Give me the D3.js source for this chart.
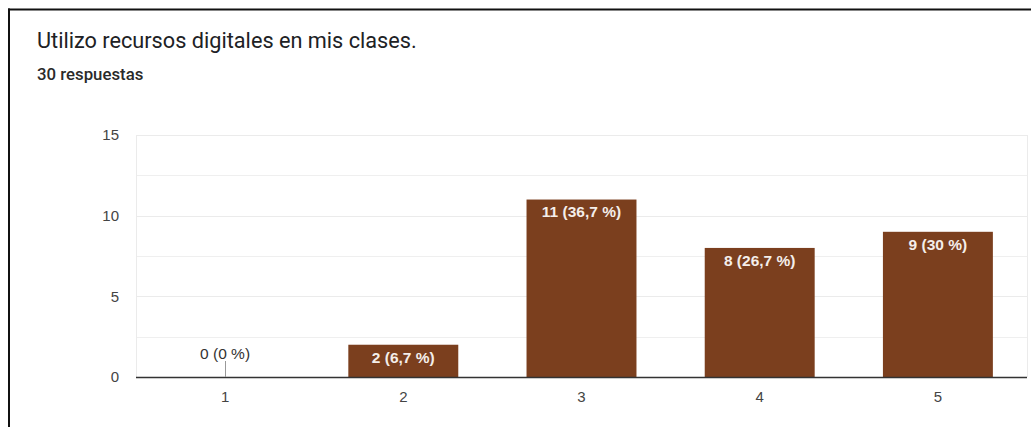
<!DOCTYPE html>
<html>
<head>
<meta charset="utf-8">
<script src="https://cdn.jsdelivr.net/npm/d3@7/dist/d3.min.js"></script>
<style>
  html, body { margin: 0; padding: 0; background: #fff; }
  svg { display: block; }
</style>
</head>
<body>
<svg id="chart" width="1031" height="427"></svg>
<script>
// Survey question and responses
const title = "Utilizo recursos digitales en mis clases.";
const subtitle = "30 respuestas";
const categories = ["1", "2", "3", "4", "5"];
const counts = [0, 2, 11, 8, 9];
const yTicks = [0, 5, 10, 15];
const yMinorTicks = [2.5, 7.5, 12.5];

const total = d3.sum(counts);
const fmtPct = v => {
  const r = Math.round(v * 10) / 10;
  return (Number.isInteger(r) ? String(r) : r.toFixed(1)).replace(".", ",");
};
const labelText = c => `${c} (${fmtPct(c / total * 100)} %)`;

const svg = d3.select("#chart");
const W = 1031, H = 427;

// Card frame (top and left edges)
svg.append("line").attr("x1", 8).attr("x2", W).attr("y1", 9.5).attr("y2", 9.5)
  .attr("stroke", "#111").attr("stroke-width", 2);
svg.append("line").attr("x1", 9).attr("x2", 9).attr("y1", 8.5).attr("y2", H)
  .attr("stroke", "#111").attr("stroke-width", 2);

// Heading
svg.append("text").attr("x", 37).attr("y", 48)
  .attr("font-family", "Roboto, 'Liberation Sans', sans-serif")
  .attr("font-size", 21.7).attr("fill", "#202124").text(title);
svg.append("text").attr("x", 37).attr("y", 80)
  .attr("font-family", "Roboto, 'Liberation Sans', sans-serif")
  .attr("font-size", 16.8).attr("font-weight", 500).attr("fill", "#2a2a2a").text(subtitle);

// Plot area
const plotL = 136, plotR = 1027, plotT = 135, plotB = 377;
const x = d3.scaleBand().domain(categories).range([plotL, plotR]).padding(0);
const y = d3.scaleLinear().domain([0, 15]).range([plotB, plotT]);
const barFrac = 0.617;
const barW = x.bandwidth() * barFrac;
const cx = c => x(c) + x.bandwidth() / 2;

const font = "Arial, 'Liberation Sans', sans-serif";

// Gridlines
svg.append("g").selectAll("line").data(yMinorTicks).join("line")
  .attr("x1", plotL).attr("x2", plotR)
  .attr("y1", d => Math.round(y(d)) + 0.5).attr("y2", d => Math.round(y(d)) + 0.5)
  .attr("stroke", "#efefef");
svg.append("g").selectAll("line").data(yTicks.filter(t => t > 0)).join("line")
  .attr("x1", plotL).attr("x2", plotR)
  .attr("y1", d => Math.round(y(d)) + 0.5).attr("y2", d => Math.round(y(d)) + 0.5)
  .attr("stroke", "#ebebeb");
// Plot side edges
[plotL, plotR].forEach(xx => {
  svg.append("line").attr("x1", xx + 0.5).attr("x2", xx + 0.5)
    .attr("y1", plotT).attr("y2", plotB).attr("stroke", "#ebebeb");
});

// Y axis labels
const yAxis = d3.axisLeft(y).tickValues(yTicks).tickSize(0).tickPadding(17);
const gy = svg.append("g").attr("transform", `translate(${plotL},0)`).call(yAxis);
gy.select(".domain").remove();
gy.selectAll("text").attr("font-family", font).attr("font-size", 15).attr("fill", "#444");

// Bars
svg.append("g").selectAll("rect").data(categories).join("rect")
  .attr("x", (c) => cx(c) - barW / 2)
  .attr("width", barW)
  .attr("y", (c, i) => y(counts[i]))
  .attr("height", (c, i) => plotB - y(counts[i]))
  .attr("fill", "#7b3f1e");

// Baseline
svg.append("line").attr("x1", plotL).attr("x2", plotR)
  .attr("y1", plotB + 0.5).attr("y2", plotB + 0.5)
  .attr("stroke", "#333").attr("stroke-width", 1.3);

// X axis labels
const xAxis = d3.axisBottom(x).tickSize(0).tickPadding(14);
const gx = svg.append("g").attr("transform", `translate(0,${plotB})`).call(xAxis);
gx.select(".domain").remove();
gx.selectAll("text").attr("font-family", font).attr("font-size", 15).attr("fill", "#444");

// Value labels
categories.forEach((c, i) => {
  const v = counts[i];
  if (v > 0) {
    svg.append("text").attr("x", cx(c)).attr("y", y(v) + 12.5)
      .attr("dy", "0.35em").attr("text-anchor", "middle")
      .attr("font-family", font).attr("font-size", 15.5).attr("font-weight", "bold")
      .attr("fill", "#f4eeea").text(labelText(v));
  } else {
    svg.append("line").attr("x1", Math.round(cx(c)) + 0.5).attr("x2", Math.round(cx(c)) + 0.5)
      .attr("y1", y(v)).attr("y2", y(v) - 16).attr("stroke", "#999");
    svg.append("text").attr("x", cx(c)).attr("y", y(v) - 23)
      .attr("dy", "0.35em").attr("text-anchor", "middle")
      .attr("font-family", font).attr("font-size", 15.5)
      .attr("fill", "#333").text(labelText(v));
  }
});
</script>
</body>
</html>
